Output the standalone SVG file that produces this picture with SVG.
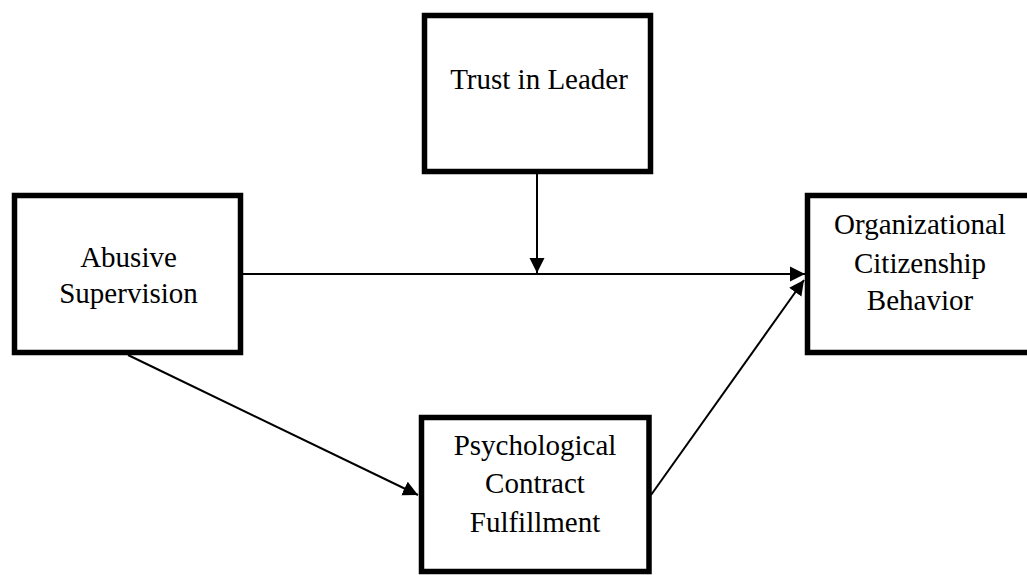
<svg xmlns="http://www.w3.org/2000/svg" width="1027" height="575" viewBox="0 0 1027 575">
<style>
.box{fill:#fff;stroke:#000;stroke-width:5.5}
.lbl{font-family:"Liberation Serif","Times New Roman",serif;font-size:29px;fill:#000;text-anchor:middle}
.conn{stroke:#000;stroke-width:2;fill:none;marker-end:url(#ah)}
</style>
<defs>
<marker id="ah" markerUnits="userSpaceOnUse" markerWidth="16" markerHeight="16" viewBox="0 0 16 16" refX="15" refY="8" orient="auto">
<path d="M0,0.5 L15,8 L0,15.5 Z" fill="#000"/>
</marker>
</defs>
<g id="connectors">
<line class="conn" x1="243" y1="274" x2="805" y2="274"/>
<line class="conn" x1="537" y1="174" x2="537" y2="273"/>
<line class="conn" x1="128" y1="355" x2="418" y2="495"/>
<line class="conn" x1="651" y1="495" x2="804" y2="280"/>
</g>
<g id="trust">
<rect class="box" x="424.5" y="15.5" width="226" height="156"/>
<text class="lbl" x="539" y="89">Trust in Leader</text>
</g>
<g id="abusive">
<rect class="box" x="14.5" y="195.5" width="226" height="157"/>
<text class="lbl" x="128.5" y="267">Abusive</text>
<text class="lbl" x="128.5" y="303">Supervision</text>
</g>
<g id="ocb">
<rect class="box" x="807.5" y="195.5" width="230" height="157"/>
<text class="lbl" x="920" y="234">Organizational</text>
<text class="lbl" x="920" y="273">Citizenship</text>
<text class="lbl" x="920" y="310">Behavior</text>
</g>
<g id="pcf">
<rect class="box" x="421.5" y="417.5" width="227.5" height="154"/>
<text class="lbl" x="535" y="455">Psychological</text>
<text class="lbl" x="535" y="493">Contract</text>
<text class="lbl" x="535" y="532">Fulfillment</text>
</g>
</svg>
